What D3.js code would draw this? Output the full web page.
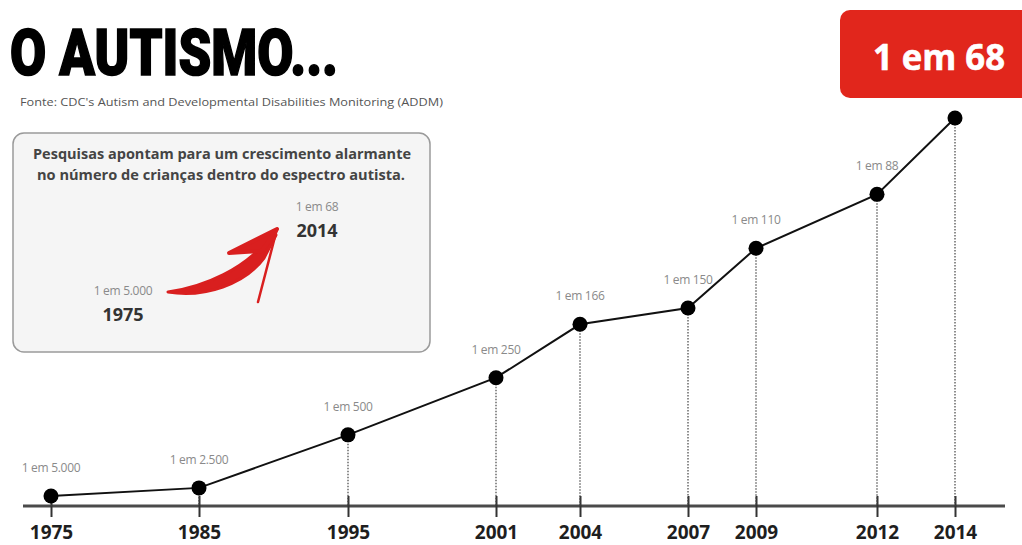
<!doctype html>
<html>
<head>
    <meta charset="UTF-8">
    <script src="https://d3js.org/d3.v7.min.js"></script>
    <title>O autismo</title>
</head>

<body style="margin:0; background:#fff;">

<style>
    text { font-family: "Open Sans", "DejaVu Sans", sans-serif; }
    .title { font-family: Roboto, "Open Sans", sans-serif; font-weight: 900; }
    .lbl { font-size: 12px; fill: #8a8a8a; letter-spacing: -0.3px; }
    .year text { font-size: 19px; font-weight: 700; fill: #1e1e1e; }
</style>

<div id="graph"></div>

<script>
    // data: "1 em N" per year
    var years = [1975, 1985, 1995, 2001, 2004, 2007, 2009, 2012, 2014];
    var oneIn = [5000, 2500, 500, 250, 166, 150, 110, 88, 68];
    var labels = ["1 em 5.000", "1 em 2.500", "1 em 500", "1 em 250", "1 em 166",
                  "1 em 150", "1 em 110", "1 em 88", "1 em 68"];

    var w = 1022, h = 545;
    var axisY = 506;

    var vis = d3.select("#graph")
            .append("svg")
            .attr("width", w)
            .attr("height", h);

    // the infographic places years unevenly, so the x scale is polylinear
    var xStops = [51, 199, 348, 496, 580, 688, 756, 877, 955];
    var x = d3.scaleLinear().domain(years).range(xStops);

    // rate per 10.000 children
    var rate = oneIn.map(function(n) { return 10000 / n; });
    var y = d3.scalePow().exponent(0.85)
            .domain([0, d3.max(rate)])
            .range([axisY, 118]);

    var pts = years.map(function(yr, i) {
        return {year: yr, rate: rate[i], label: labels[i]};
    });
    var first = pts[0], last = pts[pts.length - 1];

    // header
    vis.append("text")
            .attr("class", "title")
            .attr("x", 10).attr("y", 75)
            .attr("font-size", 64)
            .attr("textLength", 328)
            .attr("lengthAdjust", "spacingAndGlyphs")
            .style("fill", "#000")
            .style("stroke", "#000").style("stroke-width", 1.6)
            .text("O AUTISMO...");

    vis.append("text")
            .attr("x", 20).attr("y", 106)
            .attr("font-size", 11.5)
            .attr("textLength", 423)
            .attr("lengthAdjust", "spacingAndGlyphs")
            .style("fill", "#555")
            .text("Fonte: CDC's Autism and Developmental Disabilities Monitoring (ADDM)");

    vis.append("rect")
            .attr("x", 840).attr("y", 10)
            .attr("width", 220).attr("height", 88)
            .attr("rx", 10)
            .style("fill", "#e1261c");

    vis.append("text")
            .attr("x", 939).attr("y", 70)
            .attr("text-anchor", "middle")
            .attr("font-size", 36).attr("font-weight", 700)
            .attr("textLength", 132)
            .attr("lengthAdjust", "spacingAndGlyphs")
            .style("fill", "#fff")
            .style("stroke", "#fff").style("stroke-width", 0.6)
            .text(last.label);

    // grey note box
    vis.append("rect")
            .attr("x", 13).attr("y", 133)
            .attr("width", 417).attr("height", 219)
            .attr("rx", 11)
            .style("fill", "#f5f5f5")
            .style("stroke", "#9a9a9a").style("stroke-width", 1.5);

    vis.append("text")
            .attr("x", 222).attr("y", 159)
            .attr("text-anchor", "middle")
            .attr("font-size", 14).attr("font-weight", 700)
            .attr("textLength", 378).attr("lengthAdjust", "spacingAndGlyphs")
            .style("fill", "#444")
            .text("Pesquisas apontam para um crescimento alarmante");

    vis.append("text")
            .attr("x", 221).attr("y", 180)
            .attr("text-anchor", "middle")
            .attr("font-size", 14).attr("font-weight", 700)
            .attr("textLength", 368).attr("lengthAdjust", "spacingAndGlyphs")
            .style("fill", "#444")
            .text("no número de crianças dentro do espectro autista.");

    var notes = [
        {x: 123, y: 295, label: first.label, year: first.year},
        {x: 317, y: 211, label: last.label, year: last.year}
    ];
    notes.forEach(function(n) {
        vis.append("text").attr("class", "lbl")
                .attr("x", n.x).attr("y", n.y)
                .attr("text-anchor", "middle")
                .text(n.label);
        vis.append("text")
                .attr("x", n.x).attr("y", n.y + 26)
                .attr("text-anchor", "middle")
                .attr("font-size", 18).attr("font-weight", 700)
                .style("fill", "#333")
                .text(n.year);
    });

    // red brush arrow
    var red = "#d91f1f";
    vis.append("path")
            .attr("d", "M168,292 C205,298 245,284 264,258 L276,235 L267,240 C246,268 205,287 168,292 Z")
            .style("fill", red).style("stroke", red).style("stroke-width", 3)
            .style("stroke-linejoin", "round");
    vis.append("path")
            .attr("d", "M229,253 L277,229 L262,251 Z")
            .style("fill", red).style("stroke", red).style("stroke-width", 4)
            .style("stroke-linejoin", "round");
    vis.append("path")
            .attr("d", "M277,229 L258,302")
            .style("fill", "none").style("stroke", red).style("stroke-width", 2.5)
            .style("stroke-linecap", "round");

    // axis
    vis.append("line")
            .attr("x1", 23).attr("x2", 1005)
            .attr("y1", axisY).attr("y2", axisY)
            .style("stroke", "#4a4a4a").style("stroke-width", 3);

    var ax = vis.append("g")
            .attr("class", "year")
            .attr("transform", "translate(0," + axisY + ")")
            .call(d3.axisBottom(x)
                    .tickValues(years)
                    .tickFormat(d3.format("d"))
                    .tickSizeOuter(0)
                    .tickPadding(20));
    ax.select(".domain").remove();
    ax.selectAll(".tick line")
            .attr("y1", -10).attr("y2", 11)
            .style("stroke", "#333").style("stroke-width", 2);
    ax.selectAll(".tick text")
            .attr("font-family", null).attr("font-size", null)
            .attr("dy", "0.35em");

    // dotted drop lines
    vis.selectAll(".drop")
            .data(pts)
            .enter()
            .append("line")
            .attr("class", "drop")
            .attr("x1", function(d) { return x(d.year); })
            .attr("x2", function(d) { return x(d.year); })
            .attr("y1", function(d) { return y(d.rate); })
            .attr("y2", axisY)
            .style("stroke", "#444")
            .style("stroke-width", 1.2)
            .style("stroke-dasharray", "1.5,1.5");

    var line = d3.line()
            .x(function(d) { return x(d.year); })
            .y(function(d) { return y(d.rate); });

    vis.append("path")
            .datum(pts)
            .attr("d", line)
            .style("fill", "none")
            .style("stroke", "#111")
            .style("stroke-width", 2);

    vis.selectAll(".dot")
            .data(pts)
            .enter()
            .append("circle")
            .attr("class", "dot")
            .attr("cx", function(d) { return x(d.year); })
            .attr("cy", function(d) { return y(d.rate); })
            .attr("r", 7.5)
            .style("fill", "#000");

    // the last value is shown in the red box instead
    vis.selectAll(".ptlbl")
            .data(pts.slice(0, -1))
            .enter()
            .append("text")
            .attr("class", "lbl ptlbl")
            .attr("x", function(d) { return x(d.year); })
            .attr("y", function(d) { return y(d.rate) - 24; })
            .attr("text-anchor", "middle")
            .text(function(d) { return d.label; });
</script>

</body>
</html>
